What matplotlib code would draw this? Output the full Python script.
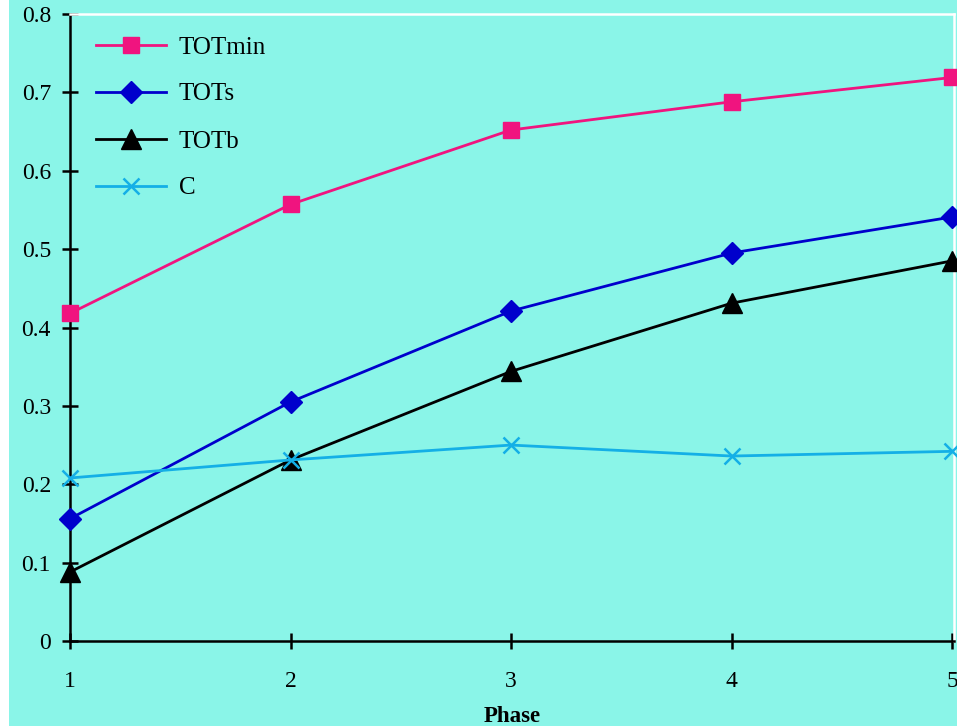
import matplotlib
matplotlib.use("Agg")
import matplotlib.pyplot as plt
from matplotlib.patches import Rectangle

plt.rcParams['font.family'] = ['Liberation Serif', 'DejaVu Serif']

phase = [1, 2, 3, 4, 5]
tot_min = [0.418, 0.557, 0.652, 0.688, 0.719]
tot_s = [0.156, 0.305, 0.421, 0.495, 0.541]
tot_b = [0.088, 0.231, 0.344, 0.431, 0.485]
c_vals = [0.208, 0.231, 0.250, 0.236, 0.242]

bg = '#8AF5E8'

fig = plt.figure(figsize=(9.57, 7.26), dpi=100, facecolor='white')
fig.patches.append(Rectangle((9 / 957, 0), 1, 1, transform=fig.transFigure,
                             facecolor=bg, edgecolor='none', zorder=-10))

ax = fig.add_axes([70 / 957, 1 - 641 / 726, 884 / 957, 627 / 726])
ax.set_facecolor(bg)

ax.plot(phase, tot_min, color='#F0147F', lw=2.0, marker='s', ms=11,
        label='TOTmin', clip_on=False, zorder=5)
ax.plot(phase, tot_s, color='#0000CC', lw=2.0, marker='D', ms=11,
        label='TOTs', clip_on=False, zorder=5)
ax.plot(phase, tot_b, color='black', lw=2.0, marker='^', ms=14,
        label='TOTb', clip_on=False, zorder=5)
ax.plot(phase, c_vals, color='#14AFE6', lw=2.0, marker='x', ms=11, mew=1.8,
        label='C', clip_on=False, zorder=6)

ax.set_xlim(1, 5.009)
ax.set_ylim(0, 0.8)
ax.set_xticks(phase)
ax.set_yticks([0, 0.1, 0.2, 0.3, 0.4, 0.5, 0.6, 0.7, 0.8])
ax.set_yticklabels(['0', '0.1', '0.2', '0.3', '0.4', '0.5', '0.6', '0.7', '0.8'])

for side in ['left', 'bottom']:
    ax.spines[side].set_color('black')
    ax.spines[side].set_linewidth(1.8)
for side in ['top', 'right']:
    ax.spines[side].set_color('white')
    ax.spines[side].set_linewidth(1.8)

ax.tick_params(direction='inout', length=11.5, width=1.8, labelsize=17)
ax.tick_params(axis='y', pad=8)
ax.tick_params(axis='x', pad=16)

ax.set_xlabel('Phase', fontsize=16.5, fontweight='bold', labelpad=10)

ax.legend(loc='upper left', bbox_to_anchor=(26 / 884, 1 - 22 / 627), frameon=False,
          fontsize=18, handlelength=2.8, handletextpad=0.5, labelspacing=0.98,
          borderpad=0, borderaxespad=0)

fig.savefig('out.png', dpi=100, facecolor='white')
